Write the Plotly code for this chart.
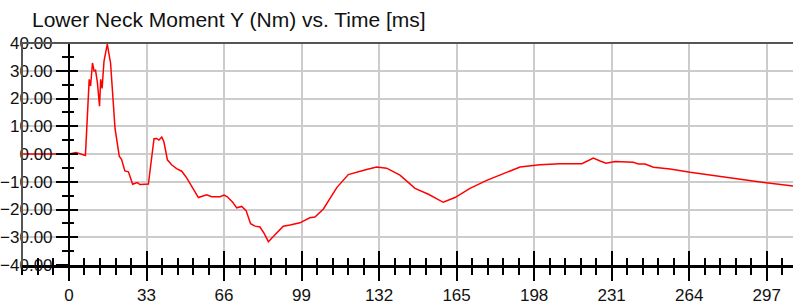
import plotly.graph_objects as go

# Data (time in ms, moment in Nm)
time_ms = [-20, 0, 3, 5, 7, 8.6, 9.2, 10.0, 10.7, 11.3, 12.1, 13.0, 13.5, 14.1, 14.9,
           16.3, 17.7, 19.6, 21.4, 22.4, 23.8, 25.3, 27.1, 29.1, 30.2, 33.8, 35.2,
           36.2, 37.3, 38.3, 39.5, 40.4, 41.9, 43.7, 45.8, 48.0, 50.1, 52.2, 55.1,
           58.6, 60.7, 64.3, 66.0, 67.4, 69.7, 71.4, 73.5, 75.4, 77.3, 79.2, 81.3,
           83.0, 84.9, 87.7, 89.8, 91.2, 94.1, 98.3, 102.5, 104.7, 108.3, 114.0,
           118.9, 122.5, 126.7, 131.0, 135.2, 140.9, 147.3, 153.0, 159.3, 164.3,
           170.7, 177.8, 183.5, 192.0, 200.5, 209.0, 218.3, 220.4, 223.2, 226.1,
           228.6, 232.4, 240.2, 242.4, 245.2, 248.8, 255.9, 264.4, 274.3, 284.2,
           294.2, 308.2]
moment_nm = [0, 0, 0.5, 0, -0.5, 26.9, 24.5, 32.8, 29.9, 30.2, 25.7, 17.2, 26.9, 23.6,
             33.4, 39.6, 32.8, 9.2, -0.8, -2, -6.1, -6.4, -10.9, -10.3, -11, -10.8,
             -1.5, 5.5, 5.6, 5.0, 6.1, 4.4, -2.1, -3.9, -5.3, -6.2, -8.6, -11.5,
             -15.7, -14.7, -15.4, -15.4, -14.8, -15.4, -17.4, -19.4, -18.9, -20.4,
             -25.1, -26, -26.3, -28.5, -31.6, -29.1, -27.4, -26, -25.6, -24.8, -23,
             -22.7, -19.8, -12.1, -7.4, -6.5, -5.6, -4.7, -5.1, -7.6, -12.4, -14.5,
             -17.4, -15.7, -12.4, -9.5, -7.6, -4.7, -3.9, -3.5, -3.5, -2.7, -1.5,
             -2.5, -3.3, -2.7, -3.0, -3.6, -3.6, -4.8, -5.4, -6.6, -7.8, -8.8,
             -10.1, -11.5]

x_range = [-20, 308.2]
y_range = [-40, 40]
x_tick_step = 33
y_tick_step = 10
title_text = "Lower Neck Moment Y (Nm) vs. Time [ms]"

font_family = "Liberation Sans, Arial, sans-serif"
grid_color = "#cccccc"
frame_color = "#555555"

fig = go.Figure()
fig.add_trace(go.Scatter(x=time_ms, y=moment_nm, mode="lines",
                         line=dict(color="#ff0000", width=1.5),
                         showlegend=False, hoverinfo="x+y"))
# invisible companion trace so the overlay axes (inside ticks) get drawn
fig.add_trace(go.Scatter(x=time_ms, y=moment_nm, mode="lines", xaxis="x2", yaxis="y2",
                         line=dict(color="rgba(0,0,0,0)", width=0),
                         showlegend=False, hoverinfo="skip"))

yaxis_pos = (0 - x_range[0]) / (x_range[1] - x_range[0])

fig.update_layout(
    width=793, height=305,
    margin=dict(l=22, r=0, t=43, b=36),
    paper_bgcolor="white", plot_bgcolor="white",
    font=dict(family=font_family, size=17, color="#111111"),
    title=dict(text=title_text, xref="container", yref="container",
               x=32 / 793, xanchor="left", y=1 - 20 / 305, yanchor="middle",
               font=dict(family=font_family, size=21, color="#111111")),
    xaxis=dict(range=x_range, tick0=0, dtick=x_tick_step, showgrid=True,
               gridcolor=grid_color, gridwidth=1.5, zeroline=False,
               showline=True, linecolor="black", linewidth=3,
               ticks="outside", ticklen=13, tickwidth=2, tickcolor="black",
               minor=dict(dtick=x_tick_step / 5, ticks="outside", ticklen=7,
                          tickwidth=2, tickcolor="black", showgrid=False),
               tickfont=dict(size=17, color="#111111"), anchor="y"),
    xaxis2=dict(range=x_range, overlaying="x", anchor="y", side="bottom",
                tick0=0, dtick=x_tick_step, showgrid=False, zeroline=False,
                showline=False, showticklabels=False,
                ticks="inside", ticklen=14, tickwidth=2, tickcolor="black",
                minor=dict(dtick=x_tick_step / 5, ticks="inside", ticklen=7,
                           tickwidth=2, tickcolor="black", showgrid=False)),
    yaxis=dict(range=y_range, tick0=0, dtick=y_tick_step, showgrid=True,
               gridcolor=grid_color, gridwidth=1.5, zeroline=False,
               anchor="free", position=yaxis_pos, side="left",
               showline=True, linecolor="black", linewidth=2,
               ticks="outside", ticklen=12, tickwidth=2, tickcolor="black",
               minor=dict(dtick=y_tick_step / 2, ticks="outside", ticklen=6,
                          tickwidth=2, tickcolor="black", showgrid=False),
               tickformat=".2f", tickfont=dict(size=17, color="#111111")),
    yaxis2=dict(range=y_range, overlaying="y", anchor="free", position=yaxis_pos,
                side="left", tick0=0, dtick=y_tick_step, showgrid=False,
                zeroline=False, showline=False, showticklabels=False,
                ticks="inside", ticklen=8, tickwidth=2, tickcolor="black",
                minor=dict(dtick=y_tick_step / 2, ticks="inside", ticklen=4,
                           tickwidth=2, tickcolor="black", showgrid=False)),
    shapes=[
        dict(type="line", xref="paper", yref="paper", x0=0, x1=1, y0=1, y1=1,
             line=dict(color=frame_color, width=2), layer="above"),
        dict(type="line", xref="paper", yref="paper", x0=0, x1=0, y0=0, y1=1,
             line=dict(color=frame_color, width=2), layer="above"),
    ],
)

fig.write_html("out.html",
               config={"displayModeBar": False},
               post_script="document.body.style.margin='0';document.body.style.padding='0';")
